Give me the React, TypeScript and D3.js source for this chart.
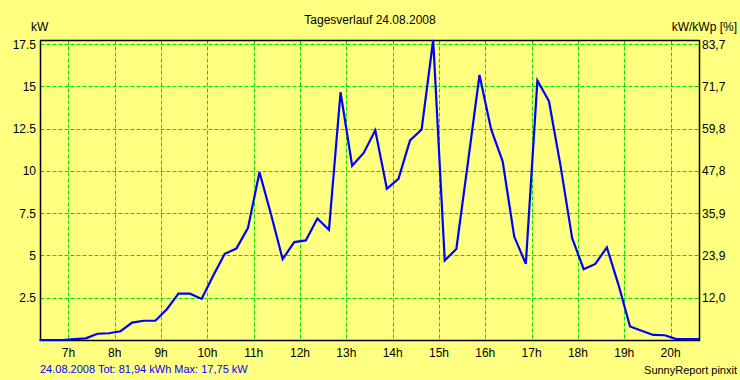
import React from "react";
import * as d3 from "d3";

const title = "Tagesverlauf 24.08.2008";
const leftUnit = "kW";
const rightUnit = "kW/kWp [%]";
const footerLeft = "24.08.2008 Tot: 81,94 kWh Max: 17,75 kW";
const footerRight = "SunnyReport pinxit";

const times = [
  "06:22:30", "06:37:30", "06:52:30", "07:07:30", "07:22:30", "07:37:30", "07:52:30",
  "08:07:30", "08:22:30", "08:37:30", "08:52:30", "09:07:30", "09:22:30", "09:37:30",
  "09:52:30", "10:07:30", "10:22:30", "10:37:30", "10:52:30", "11:07:30", "11:22:30",
  "11:37:30", "11:52:30", "12:07:30", "12:22:30", "12:37:30", "12:52:30", "13:07:30",
  "13:22:30", "13:37:30", "13:52:30", "14:07:30", "14:22:30", "14:37:30", "14:52:30",
  "15:07:30", "15:22:30", "15:37:30", "15:52:30", "16:07:30", "16:22:30", "16:37:30",
  "16:52:30", "17:07:30", "17:22:30", "17:37:30", "17:52:30", "18:07:30", "18:22:30",
  "18:37:30", "18:52:30", "19:07:30", "19:22:30", "19:37:30", "19:52:30", "20:07:30",
  "20:22:30", "20:37:30",
];

const powerKW = [
  0, 0, 0, 0.05, 0.1, 0.37, 0.4,
  0.52, 1.03, 1.14, 1.14, 1.82, 2.74, 2.74,
  2.43, 3.8, 5.1, 5.41, 6.62, 9.93, 7.43,
  4.78, 5.79, 5.89, 7.19, 6.52, 14.66, 10.31,
  11.07, 12.41, 8.95, 9.54, 11.81, 12.45, 17.75,
  4.7, 5.39, 10.5, 15.68, 12.47, 10.57, 6.12,
  4.5, 15.35, 14.13, 10.3, 6.03, 4.19, 4.5,
  5.48, 3.28, 0.8, 0.55, 0.3, 0.28, 0.05,
  0.05, 0.05,
];

const xTickHours = [7, 8, 9, 10, 11, 12, 13, 14, 15, 16, 17, 18, 19, 20];
const xTickLabels = ["7h", "8h", "9h", "10h", "11h", "12h", "13h", "14h", "15h", "16h", "17h", "18h", "19h", "20h"];
const yTickValues = [2.5, 5, 7.5, 10, 12.5, 15, 17.5];
const yTickLabels = ["2.5", "5", "7.5", "10", "12.5", "15", "17.5"];
const rightTickLabels = ["12,0", "23,9", "35,9", "47,8", "59,8", "71,7", "83,7"];

const W = 740;
const H = 380;
const BG = "#FFFF80";
const FONT = "'Liberation Sans', Arial, sans-serif";

function toHours(t: string): number {
  const [h, m, s] = t.split(":").map(Number);
  return h + m / 60 + s / 3600;
}

export default function App() {
  const x = d3.scaleLinear().domain([6.375, 20.625]).range([39.5, 699.5]);
  const y = d3.scaleLinear().domain([0, 17.75]).range([340, 40]);

  const pts: [number, number][] = times.map((t, i) => [toHours(t), powerKW[i]]);
  const line = d3
    .line<[number, number]>()
    .x((d) => x(d[0]))
    .y((d) => y(d[1]));

  const left = 40.5;
  const right = 699.5;
  const top = 40.5;
  const bottom = 340.5;

  return (
    <svg
      width={W}
      height={H}
      style={{ position: "absolute", left: 0, top: 0, display: "block" }}
      fontFamily={FONT}
    >
      <rect x={0} y={0} width={W} height={H} fill={BG} />
      {/* grid */}
      {xTickHours.map((h) => (
        <line
          key={"gx" + h}
          x1={Math.round(x(h)) + 0.5}
          x2={Math.round(x(h)) + 0.5}
          y1={top}
          y2={bottom}
          stroke="#00E000"
          strokeWidth={1}
          strokeDasharray="4,2"
        />
      ))}
      {yTickValues.map((v) => (
        <line
          key={"gy" + v}
          x1={left}
          x2={right}
          y1={Math.round(y(v)) + 0.5}
          y2={Math.round(y(v)) + 0.5}
          stroke="#00E000"
          strokeWidth={1}
          strokeDasharray="4,2"
        />
      ))}
      {/* frame */}
      <rect x={left} y={top} width={right - left} height={bottom - top} fill="none" stroke="#000" strokeWidth={1.5} />
      {/* data line */}
      <path d={line(pts) || ""} fill="none" stroke="#0000FF" strokeWidth={2.2} strokeLinejoin="miter" />
      {/* left tick labels */}
      {yTickValues.map((v, i) => (
        <text key={"yl" + v} x={36} y={y(v) + 4.5} textAnchor="end" fontSize={12} fill="#000">
          {yTickLabels[i]}
        </text>
      ))}
      {/* right tick labels */}
      {yTickValues.map((v, i) => (
        <text key={"yr" + v} x={702} y={y(v) + 4.5} textAnchor="start" fontSize={12} fill="#000">
          {rightTickLabels[i]}
        </text>
      ))}
      {/* x tick labels */}
      {xTickHours.map((h, i) => (
        <text key={"xl" + h} x={x(h)} y={357} textAnchor="middle" fontSize={12} fill="#000">
          {xTickLabels[i]}
        </text>
      ))}
      <text x={370} y={24} textAnchor="middle" fontSize={12} fill="#000">
        {title}
      </text>
      <text x={31} y={31} textAnchor="start" fontSize={12} fill="#000">
        {leftUnit}
      </text>
      <text x={737} y={31} textAnchor="end" fontSize={12} fill="#000">
        {rightUnit}
      </text>
      <text x={40} y={373} textAnchor="start" fontSize={11} fill="#0000FF">
        {footerLeft}
      </text>
      <text x={737} y={374} textAnchor="end" fontSize={11} fill="#000">
        {footerRight}
      </text>
    </svg>
  );
}
